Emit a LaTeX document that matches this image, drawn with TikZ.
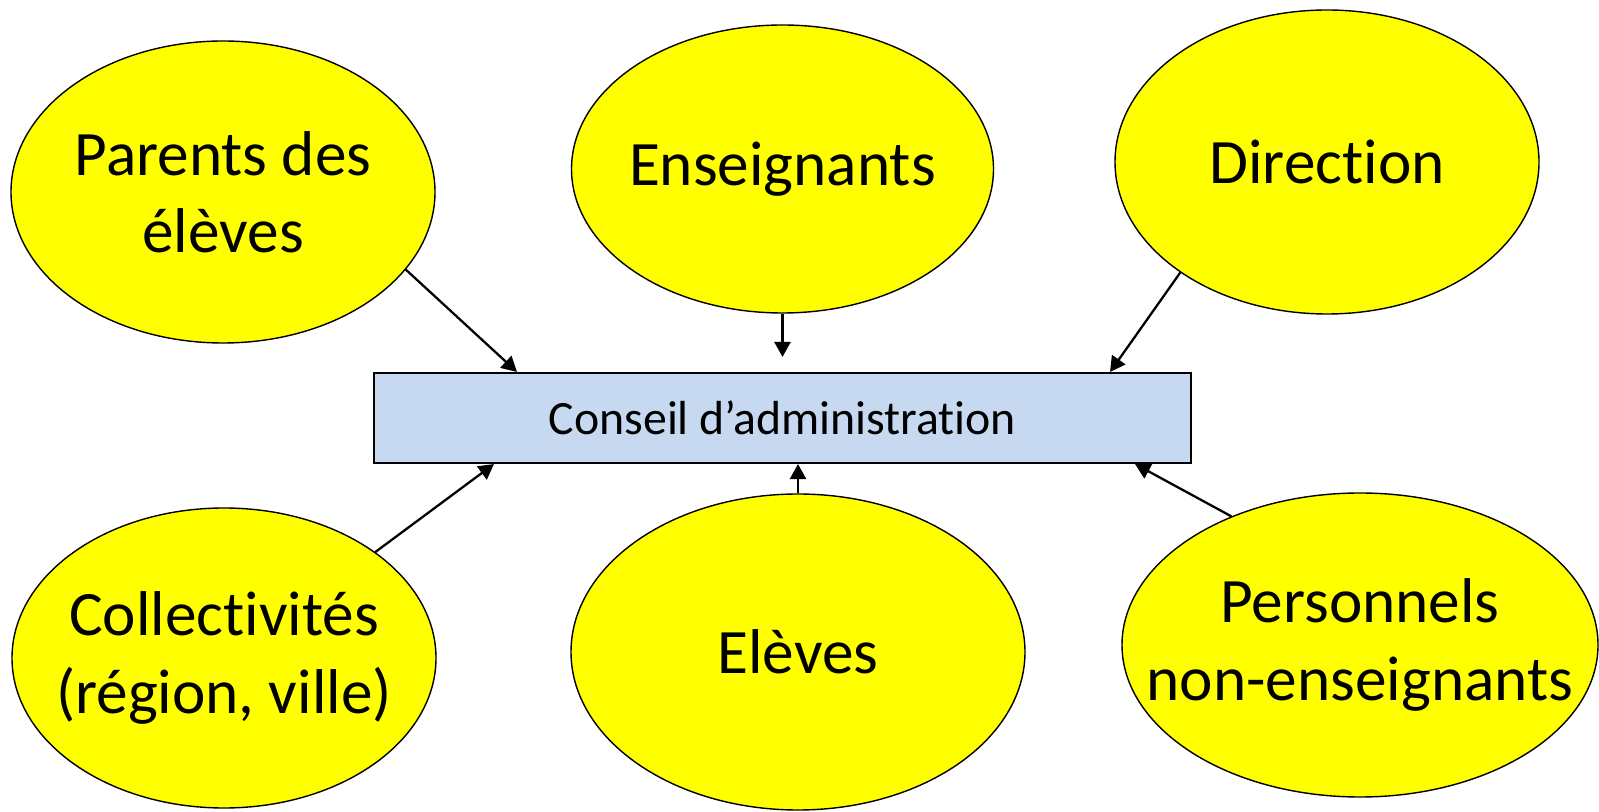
\documentclass[tikz,border=0pt]{standalone}
\usepackage{fontspec}
\setmainfont{Carlito}[RawFeature={-liga;-clig;-calt;-dlig}]
\usetikzlibrary{shapes.geometric, arrows.meta}
\definecolor{cablue}{HTML}{C6D9F1}
\definecolor{jaune}{HTML}{FFFF00}
\tikzset{
	groupe/.style={ellipse, draw, line width=0.4pt, fill=jaune, inner sep=0pt},
	fleche/.style={line width=0.65pt, -{Triangle[length=4.3pt, width=4.6pt]}},
	every label/.style={align=center, font=\fontsize{18}{22}\selectfont}
}

\begin{document}
\begin{tikzpicture}
		\useasboundingbox (0,0) rectangle (15.99, 8.11);

		\node[groupe, minimum width=4.24cm, minimum height=3.02cm, label=center:{Parents des\\élèves}] (par) at (2.23, 6.19) {};
		\node[groupe, minimum width=4.22cm, minimum height=2.88cm, label=center:{Enseignants}] (ens) at (7.825, 6.42) {};
		\node[groupe, minimum width=4.24cm, minimum height=3.04cm, label=center:{Direction}] (dir) at (13.27, 6.49) {};

		\node[groupe, minimum width=4.24cm, minimum height=3.00cm, label=center:{Collectivités\\(région, ville)}] (col) at (2.24, 1.53) {};
		\node[groupe, minimum width=4.54cm, minimum height=3.16cm, label=center:{Elèves}] (elv) at (7.98, 1.59) {};
		\node[groupe, minimum width=4.76cm, minimum height=3.04cm, label=center:{Personnels\\non-enseignants}] (per) at (13.60, 1.66) {};

		\node[draw, line width=0.6pt, fill=cablue, minimum width=8.17cm, minimum height=0.90cm, font=\fontsize{13.6}{16}\selectfont] (ca) at (7.825, 3.93) {Conseil d’administration};

		\draw[fleche] (par.-23) -- ([xshift=1.44cm]ca.north west);
		\draw[fleche] (ens.south) -- ([yshift=0.15cm]ca.north);
		\draw[fleche] (dir.-143) -- ([xshift=-0.82cm]ca.north east);

		\draw[fleche] (col.35) -- ([xshift=1.21cm]ca.south west);
		\draw[fleche] (elv.north) -- ([xshift=0.155cm]ca.south);
		\draw[fleche] (per.135) -- ([xshift=-0.57cm]ca.south east);
	\end{tikzpicture}
\end{document}
